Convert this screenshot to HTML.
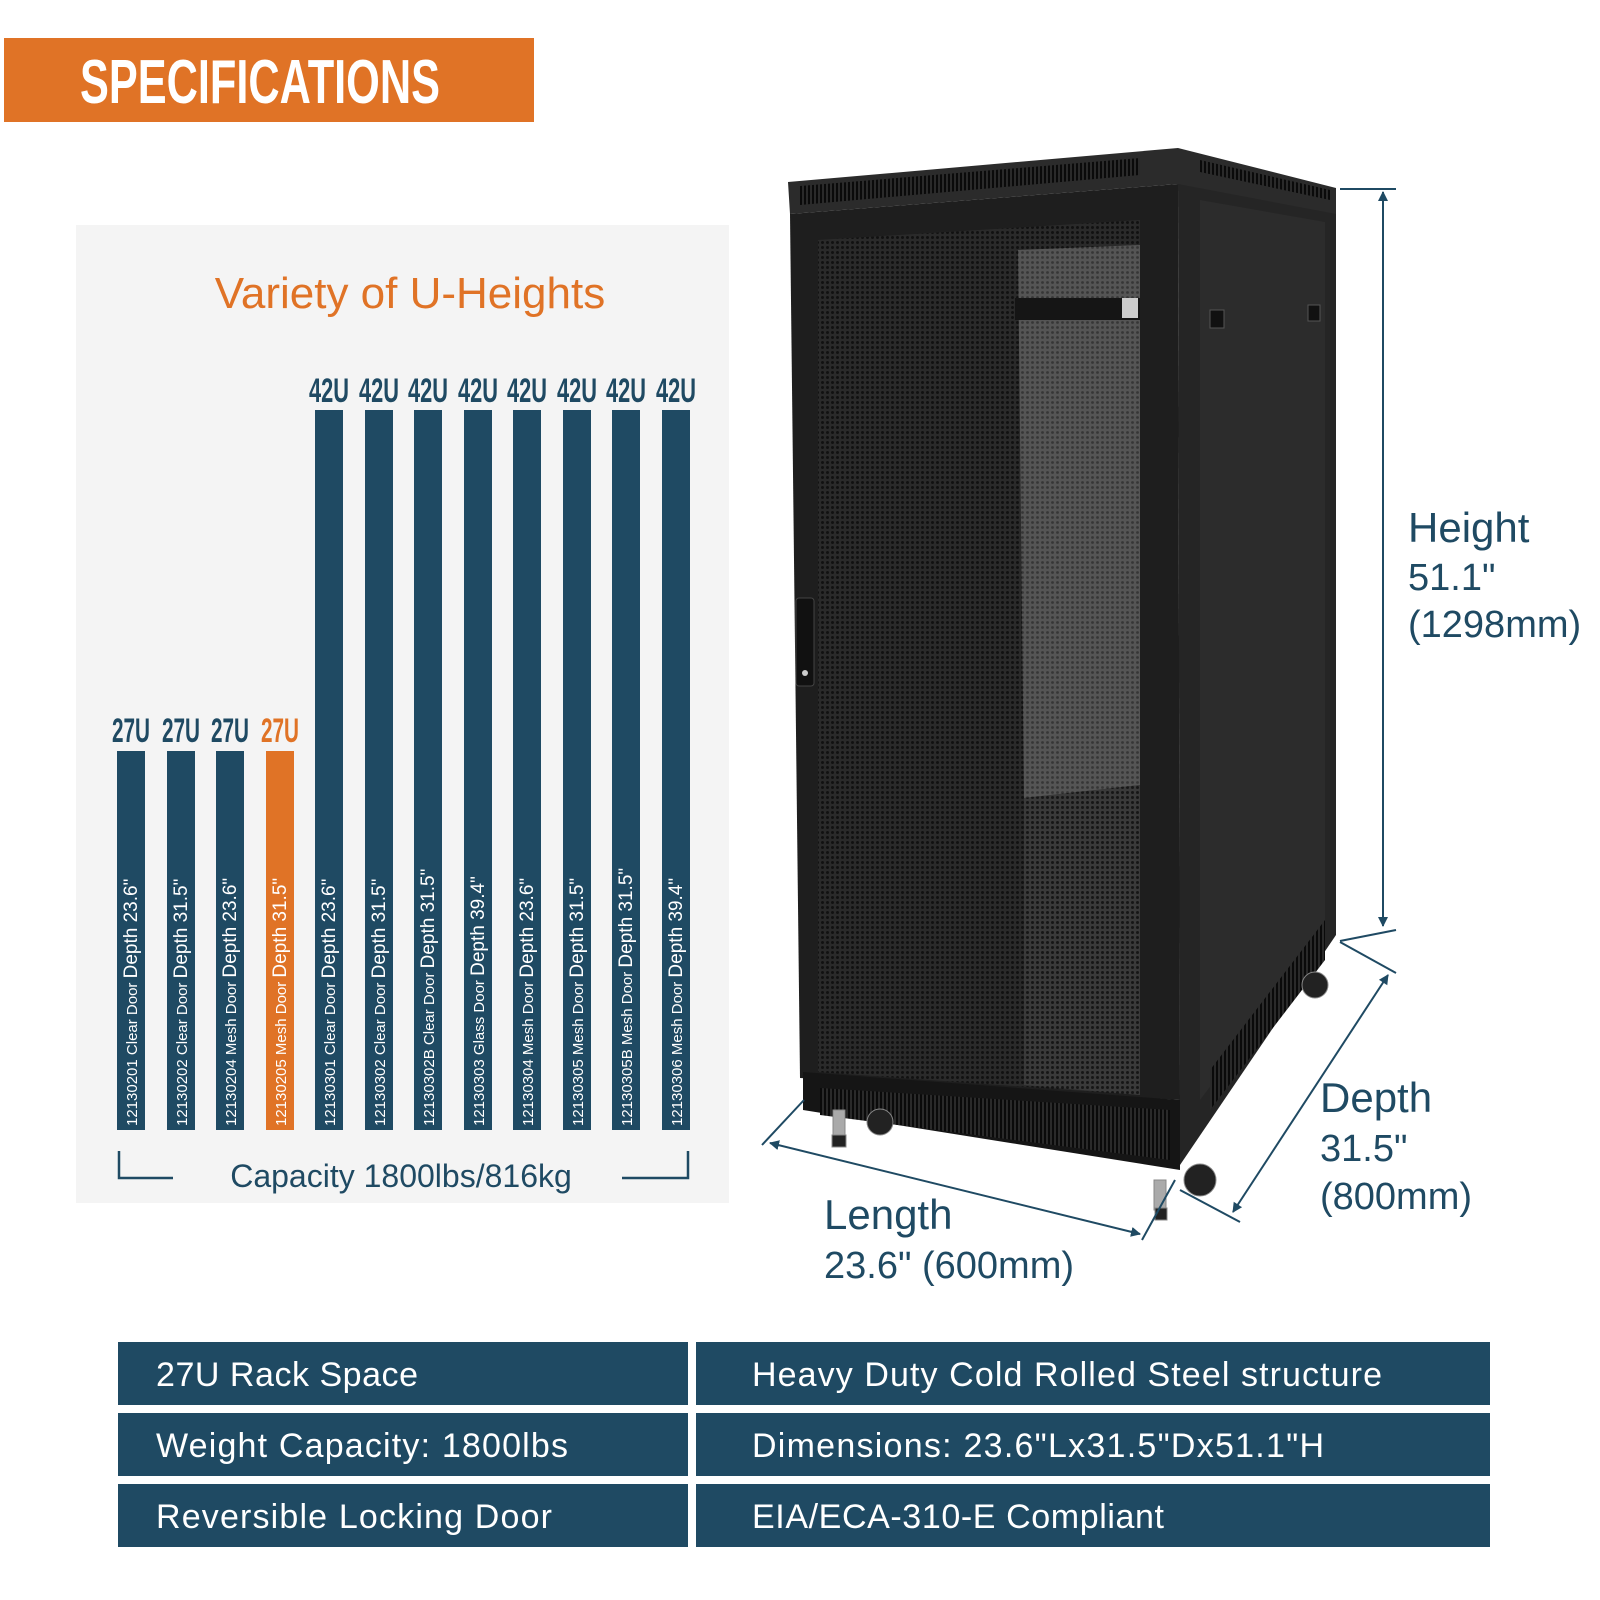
<!DOCTYPE html>
<html><head><meta charset="utf-8"><style>
html,body{margin:0;padding:0;background:#fff;}
svg{display:block;}
</style></head><body>
<svg width="1600" height="1600" viewBox="0 0 1600 1600" xmlns="http://www.w3.org/2000/svg" font-family="'Liberation Sans', sans-serif">
<defs>
<pattern id="mesh" width="5" height="5" patternUnits="userSpaceOnUse">
<rect width="5" height="5" fill="#2a2a2a"/>
<circle cx="2.5" cy="2.5" r="1.5" fill="#111"/>
</pattern>
<pattern id="meshL" width="5" height="5" patternUnits="userSpaceOnUse">
<rect width="5" height="5" fill="#555"/>
<circle cx="2.5" cy="2.5" r="1.4" fill="#363636"/>
</pattern>
<pattern id="meshM" width="5" height="5" patternUnits="userSpaceOnUse">
<rect width="5" height="5" fill="#3a3a3a"/>
<circle cx="2.5" cy="2.5" r="1.5" fill="#161616"/>
</pattern>
<pattern id="vent" width="4" height="10" patternUnits="userSpaceOnUse">
<rect width="4" height="10" fill="#2a2a2a"/>
<rect width="2" height="10" fill="#0a0a0a"/>
</pattern>
<marker id="ah" markerWidth="10" markerHeight="10" refX="9" refY="5" orient="auto" markerUnits="userSpaceOnUse" viewBox="0 0 10 10">
<path d="M0,0 L10,5 L0,10 z" fill="#1f4a63"/>
</marker>
<marker id="ahs" markerWidth="10" markerHeight="10" refX="1" refY="5" orient="auto" markerUnits="userSpaceOnUse" viewBox="0 0 10 10">
<path d="M10,0 L0,5 L10,10 z" fill="#1f4a63"/>
</marker>
</defs>

<rect x="4" y="38" width="530" height="84" fill="#e07326"/>
<text x="80" y="103" font-size="62" font-weight="bold" fill="#fff" textLength="360" lengthAdjust="spacingAndGlyphs">SPECIFICATIONS</text>

<rect x="76" y="225" width="653" height="978" fill="#f4f4f4"/>
<text x="410" y="308" font-size="44" fill="#e07326" text-anchor="middle">Variety of U-Heights</text>

<g fill="#1f4a63">
<rect x="117" y="751" width="28" height="379"/>
<rect x="167" y="751" width="28" height="379"/>
<rect x="216" y="751" width="28" height="379"/>
<rect x="266" y="751" width="28" height="379" fill="#e07326"/>
<rect x="315" y="410" width="28" height="720"/>
<rect x="365" y="410" width="28" height="720"/>
<rect x="414" y="410" width="28" height="720"/>
<rect x="464" y="410" width="28" height="720"/>
<rect x="513" y="410" width="28" height="720"/>
<rect x="563" y="410" width="28" height="720"/>
<rect x="612" y="410" width="28" height="720"/>
<rect x="662" y="410" width="28" height="720"/>
</g>
<g font-size="34" font-weight="bold" fill="#1f4a63" text-anchor="middle">
<text x="131" y="742" textLength="38" lengthAdjust="spacingAndGlyphs">27U</text>
<text x="181" y="742" textLength="38" lengthAdjust="spacingAndGlyphs">27U</text>
<text x="230" y="742" textLength="38" lengthAdjust="spacingAndGlyphs">27U</text>
<text x="280" y="742" textLength="38" lengthAdjust="spacingAndGlyphs" fill="#e07326">27U</text>
<text x="329" y="402" textLength="40" lengthAdjust="spacingAndGlyphs">42U</text>
<text x="379" y="402" textLength="40" lengthAdjust="spacingAndGlyphs">42U</text>
<text x="428" y="402" textLength="40" lengthAdjust="spacingAndGlyphs">42U</text>
<text x="478" y="402" textLength="40" lengthAdjust="spacingAndGlyphs">42U</text>
<text x="527" y="402" textLength="40" lengthAdjust="spacingAndGlyphs">42U</text>
<text x="577" y="402" textLength="40" lengthAdjust="spacingAndGlyphs">42U</text>
<text x="626" y="402" textLength="40" lengthAdjust="spacingAndGlyphs">42U</text>
<text x="676" y="402" textLength="40" lengthAdjust="spacingAndGlyphs">42U</text>
</g>
<g fill="#fff">
<text transform="translate(137,1126) rotate(-90)"><tspan font-size="15">12130201  Clear Door   </tspan><tspan font-size="19">Depth 23.6"</tspan></text>
<text transform="translate(187,1126) rotate(-90)"><tspan font-size="15">12130202  Clear Door   </tspan><tspan font-size="19">Depth 31.5"</tspan></text>
<text transform="translate(236,1126) rotate(-90)"><tspan font-size="15">12130204  Mesh Door   </tspan><tspan font-size="19">Depth 23.6"</tspan></text>
<text transform="translate(286,1126) rotate(-90)"><tspan font-size="15">12130205  Mesh Door   </tspan><tspan font-size="19">Depth 31.5"</tspan></text>
<text transform="translate(335,1126) rotate(-90)"><tspan font-size="15">12130301  Clear Door   </tspan><tspan font-size="19">Depth 23.6"</tspan></text>
<text transform="translate(385,1126) rotate(-90)"><tspan font-size="15">12130302  Clear Door   </tspan><tspan font-size="19">Depth 31.5"</tspan></text>
<text transform="translate(434,1126) rotate(-90)"><tspan font-size="15">12130302B  Clear Door   </tspan><tspan font-size="19">Depth 31.5"</tspan></text>
<text transform="translate(484,1126) rotate(-90)"><tspan font-size="15">12130303  Glass Door   </tspan><tspan font-size="19">Depth 39.4"</tspan></text>
<text transform="translate(533,1126) rotate(-90)"><tspan font-size="15">12130304  Mesh Door   </tspan><tspan font-size="19">Depth 23.6"</tspan></text>
<text transform="translate(583,1126) rotate(-90)"><tspan font-size="15">12130305  Mesh Door   </tspan><tspan font-size="19">Depth 31.5"</tspan></text>
<text transform="translate(632,1126) rotate(-90)"><tspan font-size="15">12130305B  Mesh Door   </tspan><tspan font-size="19">Depth 31.5"</tspan></text>
<text transform="translate(682,1126) rotate(-90)"><tspan font-size="15">12130306  Mesh Door   </tspan><tspan font-size="19">Depth 39.4"</tspan></text>
</g>
<path d="M119,1151 V1178 H173 M622,1178 H688 V1151" stroke="#1f4a63" stroke-width="2.5" fill="none"/>
<text x="401" y="1187" font-size="32" fill="#1f4a63" text-anchor="middle">Capacity 1800lbs/816kg</text>

<!-- cabinet -->
<polygon points="1178,183 1336,212 1336,935 1180,1165" fill="#252525"/>
<polygon points="1200,200 1325,222 1325,935 1200,1100" fill="#2c2c2c"/>
<polygon points="1210,1070 1325,920 1325,960 1210,1110" fill="url(#vent)"/>
<polygon points="788,182 1178,148 1336,188 1336,214 1178,184 790,214" fill="#2b2b2b"/>
<polygon points="800,186 1140,158 1140,175 800,205" fill="url(#vent)"/>
<polygon points="1200,160 1330,190 1330,200 1200,172" fill="url(#vent)"/>
<polygon points="790,214 1178,184 1180,1100 800,1078" fill="#1e1e1e"/>
<polygon points="818,240 1140,220 1140,1095 818,1072" fill="url(#mesh)"/>
<polygon points="1018,250 1140,245 1140,785 1024,798" fill="url(#meshL)"/>
<polygon points="1024,798 1140,785 1140,1095 1024,1085" fill="url(#meshM)"/>
<rect x="1015" y="298" width="125" height="22" fill="#151515"/>
<rect x="1122" y="298" width="16" height="20" fill="#ccc"/>
<rect x="796" y="598" width="18" height="88" rx="3" fill="#111" stroke="#444"/>
<circle cx="805" cy="673" r="3" fill="#ccc"/>
<polygon points="803,1072 1180,1100 1180,1170 803,1110" fill="#151515"/>
<polygon points="820,1088 1170,1110 1170,1160 820,1115" fill="url(#vent)"/>
<rect x="1210" y="310" width="14" height="18" fill="#111" stroke="#555"/>
<rect x="1308" y="305" width="12" height="16" fill="#111" stroke="#555"/>
<g fill="#222" stroke="#888" stroke-width="1">
<circle cx="880" cy="1122" r="13"/>
<circle cx="1200" cy="1180" r="16"/>
<circle cx="1315" cy="985" r="13"/>
<rect x="833" y="1110" width="12" height="30" fill="#aaa"/>
<rect x="1154" y="1180" width="12" height="30" fill="#aaa"/>
<rect x="1155" y="1208" width="12" height="12"/>
<rect x="832" y="1135" width="14" height="12"/>
</g>

<g stroke="#1f4a63" stroke-width="2" fill="none">
<line x1="1340" y1="189" x2="1396" y2="189"/>
<line x1="1383" y1="192" x2="1383" y2="926" marker-start="url(#ahs)" marker-end="url(#ah)"/>
<line x1="1340" y1="941" x2="1396" y2="930"/>
<line x1="1340" y1="942" x2="1396" y2="973"/>
<line x1="1388" y1="975" x2="1233" y2="1212" marker-start="url(#ahs)" marker-end="url(#ah)"/>
<line x1="1180" y1="1190" x2="1240" y2="1222"/>
<line x1="762" y1="1145" x2="804" y2="1100"/>
<line x1="770" y1="1143" x2="1140" y2="1234" marker-start="url(#ahs)" marker-end="url(#ah)"/>
<line x1="1142" y1="1240" x2="1175" y2="1180"/>
</g>
<g fill="#1f4a63">
<text x="1408" y="542" font-size="42">Height</text>
<text x="1408" y="590" font-size="38">51.1"</text>
<text x="1408" y="637" font-size="38">(1298mm)</text>
<text x="1320" y="1112" font-size="42">Depth</text>
<text x="1320" y="1161" font-size="38">31.5"</text>
<text x="1320" y="1209" font-size="38">(800mm)</text>
<text x="824" y="1229" font-size="42">Length</text>
<text x="824" y="1278" font-size="38">23.6" (600mm)</text>
</g>

<g fill="#1f4a63">
<rect x="118" y="1342" width="570" height="63"/>
<rect x="696" y="1342" width="794" height="63"/>
<rect x="118" y="1413" width="570" height="63"/>
<rect x="696" y="1413" width="794" height="63"/>
<rect x="118" y="1484" width="570" height="63"/>
<rect x="696" y="1484" width="794" height="63"/>
</g>
<g fill="#fff" font-size="34">
<text x="156" y="1386" textLength="262">27U Rack Space</text>
<text x="752" y="1386" textLength="630">Heavy Duty Cold Rolled Steel structure</text>
<text x="156" y="1457" textLength="412">Weight Capacity: 1800lbs</text>
<text x="752" y="1457" textLength="572">Dimensions: 23.6"Lx31.5"Dx51.1"H</text>
<text x="156" y="1528" textLength="396">Reversible Locking Door</text>
<text x="752" y="1528" textLength="412">EIA/ECA-310-E Compliant</text>
</g>
</svg>
</body></html>
